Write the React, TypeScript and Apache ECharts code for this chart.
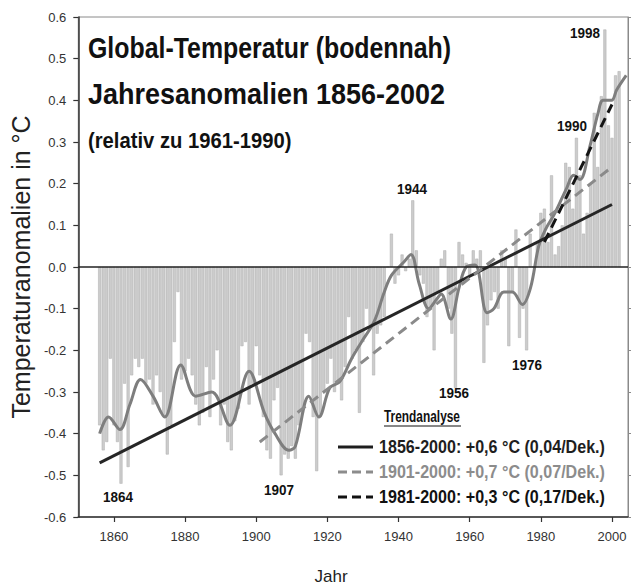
import React, { useEffect, useRef } from 'react';
import * as echarts from 'echarts';

const FONT = '"Liberation Sans", Arial, Helvetica, sans-serif';

const firstYear = 1856;
const anom1850s = [-0.38, -0.44, -0.42, -0.22];
const anom1860s = [-0.38, -0.42, -0.52, -0.28, -0.48, -0.26, -0.22, -0.24, -0.22, -0.28];
const anom1870s = [-0.27, -0.33, -0.26, -0.30, -0.36, -0.45, -0.38, -0.18, -0.06, -0.27];
const anom1880s = [-0.25, -0.22, -0.26, -0.33, -0.38, -0.35, -0.24, -0.36, -0.27, -0.20];
const anom1890s = [-0.38, -0.33, -0.42, -0.44, -0.37, -0.34, -0.19, -0.18, -0.33, -0.28];
const anom1900s = [-0.19, -0.26, -0.36, -0.44, -0.46, -0.32, -0.29, -0.50, -0.45, -0.46];
const anom1910s = [-0.43, -0.46, -0.38, -0.35, -0.16, -0.18, -0.36, -0.49, -0.36, -0.30];
const anom1920s = [-0.28, -0.22, -0.30, -0.28, -0.32, -0.24, -0.12, -0.22, -0.20, -0.35];
const anom1930s = [-0.18, -0.10, -0.14, -0.26, -0.16, -0.14, -0.12, 0.00, 0.08, -0.04];
const anom1940s = [-0.02, 0.03, -0.01, 0.02, 0.16, 0.04, -0.02, -0.04, -0.12, -0.10];
const anom1950s = [-0.20, -0.06, 0.02, 0.04, -0.10, -0.16, -0.29, 0.06, 0.03, 0.01];
const anom1960s = [-0.02, 0.04, 0.02, 0.04, -0.23, -0.14, -0.08, -0.06, -0.10, 0.04];
const anom1970s = [0.02, -0.19, -0.06, 0.09, -0.17, -0.10, -0.20, 0.08, 0.00, 0.06];
const anom1980s = [0.13, 0.14, 0.06, 0.22, 0.03, 0.05, 0.10, 0.25, 0.24, 0.14];
const anom1990s = [0.31, 0.22, 0.08, 0.13, 0.20, 0.37, 0.24, 0.41, 0.57, 0.34];
const anom2000s = [0.31, 0.46, 0.47];

const anomalies = [
  ...anom1850s, ...anom1860s, ...anom1870s, ...anom1880s, ...anom1890s,
  ...anom1900s, ...anom1910s, ...anom1920s, ...anom1930s, ...anom1940s,
  ...anom1950s, ...anom1960s, ...anom1970s, ...anom1980s, ...anom1990s, ...anom2000s,
];
const years = anomalies.map((_, i) => firstYear + i);

// smoothed curve
const smoothYears = [
  1856, 1858.5, 1861.7, 1864.5, 1867.5, 1871, 1874.3, 1878.8, 1883, 1887.5,
  1892.6, 1898, 1902.3, 1905.3, 1909.2, 1911, 1914.8, 1917.6, 1920.7, 1923.5,
  1926.8, 1929.6, 1933.2, 1936, 1938, 1941.3, 1943.5, 1945.8, 1948.5, 1950.5,
  1952, 1954.7, 1957, 1959, 1961.5, 1964.9, 1966.8, 1969.6, 1972, 1974.8,
  1977.1, 1979.4, 1981.3, 1984, 1987.3, 1989.2, 1991, 1993.8, 1996.1, 1997.5,
  1999.9, 2001.3, 2004,
];
const smoothValues = [
  -0.40, -0.36, -0.39, -0.33, -0.27, -0.31, -0.36, -0.235, -0.31, -0.30,
  -0.38, -0.25, -0.35, -0.40, -0.44, -0.43, -0.31, -0.36, -0.29, -0.275,
  -0.22, -0.18, -0.13, -0.06, -0.02, 0.01, 0.03, -0.04, -0.10, -0.08,
  -0.065, -0.125, -0.05, 0.0, 0.005, -0.11, -0.10, -0.06, -0.06, -0.09,
  -0.05, 0.05, 0.09, 0.13, 0.19, 0.22, 0.21, 0.29, 0.37, 0.40,
  0.40, 0.425, 0.46,
];

// trend lines
const trend1Years = [1856, 2000];
const trend1Values = [-0.47, 0.15];
const trend2Years = [1901, 2000];
const trend2Values = [-0.42, 0.24];
const trend3Years = [1981, 2000];
const trend3Values = [0.06, 0.39];

const xTickYears = [1860, 1880, 1900, 1920, 1940, 1960, 1980, 2000];

const titleLines = ['Global-Temperatur (bodennah)', 'Jahresanomalien 1856-2002'];
const subtitle = '(relativ zu 1961-1990)';
const yearNotes = [
  { text: '1998', x: 585, y: 33 },
  { text: '1990', x: 572, y: 126 },
  { text: '1944', x: 412, y: 189 },
  { text: '1864', x: 118, y: 497 },
  { text: '1907', x: 279, y: 490 },
  { text: '1956', x: 454, y: 393 },
  { text: '1976', x: 527, y: 365 },
];
const legendTitle = 'Trendanalyse';
const legendRows = [
  { text: '1856-2000: +0,6 °C (0,04/Dek.)', color: '#1e1e1e', dash: null as null | number[], y: 447 },
  { text: '1901-2000: +0,7 °C (0,07/Dek.)', color: '#8c8c8c', dash: [9, 5], y: 472 },
  { text: '1981-2000: +0,3 °C (0,17/Dek.)', color: '#111111', dash: [9, 5], y: 497 },
];

const pairs = (xs: number[], ys: number[]) => xs.map((x, i) => [x, ys[i]]);

export default function App() {
  const ref = useRef<HTMLDivElement>(null);
  useEffect(() => {
    const chart = echarts.init(ref.current!, null, { renderer: 'svg' });
    const graphics: any[] = [];
    const titleScale = [0.83, 0.9];
    titleLines.forEach((t, i) => {
      graphics.push({
        type: 'text', x: 88, y: 48 + i * 45, z: 10, scaleX: titleScale[i],
        style: { text: t, font: `bold 30px ${FONT}`, fill: '#111', verticalAlign: 'middle' },
      });
    });
    graphics.push({
      type: 'text', x: 88, y: 140, z: 10, scaleX: 0.92,
      style: { text: subtitle, font: `bold 22px ${FONT}`, fill: '#111', verticalAlign: 'middle' },
    });
    yearNotes.forEach((n) => {
      graphics.push({
        type: 'text', x: n.x, y: n.y, z: 10, scaleX: 0.9,
        style: { text: n.text, font: `bold 15px ${FONT}`, fill: '#111', align: 'center', verticalAlign: 'middle' },
      });
    });
    graphics.push({
      type: 'text', x: 384, y: 416, z: 10, scaleX: 0.7,
      style: { text: legendTitle, font: `bold 17px ${FONT}`, fill: '#111', align: 'left', verticalAlign: 'middle' },
    });
    graphics.push({
      type: 'line', z: 10,
      shape: { x1: 384, y1: 426, x2: 461, y2: 426 },
      style: { stroke: '#111', lineWidth: 1.2 },
    });
    legendRows.forEach((r) => {
      graphics.push({
        type: 'line', z: 10,
        shape: { x1: 338, y1: r.y, x2: 373, y2: r.y },
        style: { stroke: r.color, lineWidth: 3, lineDash: r.dash || undefined },
      });
      graphics.push({
        type: 'text', x: 379, y: r.y, z: 10, scaleX: 0.92,
        style: { text: r.text, font: `bold 17.5px ${FONT}`, fill: r.color, align: 'left', verticalAlign: 'middle' },
      });
    });
    graphics.push({
      type: 'text', x: 331, y: 576, z: 10,
      style: { text: 'Jahr', font: `17px ${FONT}`, fill: '#222', align: 'center', verticalAlign: 'middle' },
    });

    chart.setOption({
      animation: false,
      backgroundColor: '#ffffff',
      textStyle: { fontFamily: FONT },
      grid: { left: 75, top: 17, right: 4, bottom: 71, show: true, borderColor: '#8a8a8a', borderWidth: 1 },
      xAxis: {
        type: 'value', min: 1850, max: 2004.5,
        axisLine: { show: true, onZero: false, lineStyle: { color: '#333', width: 1.5 } },
        axisTick: { show: true, length: 5, customValues: xTickYears, lineStyle: { color: '#333', width: 1.2 } },
        axisLabel: {
          customValues: xTickYears, color: '#333', fontSize: 13, margin: 13, fontFamily: FONT,
          formatter: (v: number) => String(Math.round(v)),
        },
        splitLine: { show: false },
      },
      yAxis: [
        {
          type: 'value', min: -0.6, max: 0.6, interval: 0.1,
          axisLine: { show: true, onZero: false, lineStyle: { color: '#333', width: 1.5 } },
          axisTick: { show: true, length: 5, lineStyle: { color: '#333', width: 1.2 } },
          axisLabel: {
            color: '#333', fontSize: 13, margin: 12, fontFamily: FONT, hideOverlap: false,
            formatter: (v: number) => (Math.abs(v) < 1e-9 ? 0 : v).toFixed(1),
          },
          splitLine: { show: false },
          name: 'Temperaturanomalien in °C', nameLocation: 'middle', nameGap: 41, nameRotate: 90,
          nameTextStyle: { fontSize: 25, color: '#222', fontFamily: FONT },
        },
        {
          type: 'value', min: -0.6, max: 0.6, interval: 0.1, position: 'right',
          axisLine: { show: true, onZero: false, lineStyle: { color: '#8a8a8a', width: 1 } },
          axisTick: { show: true, length: 3, lineStyle: { color: '#8a8a8a' } },
          axisLabel: { show: false },
          splitLine: { show: false },
        },
      ],
      series: [
        {
          type: 'bar', name: 'Jahresanomalie',
          data: pairs(years, anomalies),
          barWidth: 3,
          itemStyle: { color: '#cccccc', borderColor: '#adadad', borderWidth: 0.5 },
          z: 1,
          markLine: {
            silent: true, symbol: 'none', label: { show: false },
            lineStyle: { color: '#222', width: 1.5, type: 'solid' },
            data: [{ yAxis: 0 }],
          },
        },
        {
          type: 'line', name: 'geglättet', data: pairs(smoothYears, smoothValues),
          smooth: 0.35, showSymbol: false, symbol: 'none',
          lineStyle: { color: '#7e7e7e', width: 3 }, z: 3,
        },
        {
          type: 'line', name: 'Trend 1856-2000', data: pairs(trend1Years, trend1Values),
          showSymbol: false, symbol: 'none',
          lineStyle: { color: '#262626', width: 3 }, z: 4,
        },
        {
          type: 'line', name: 'Trend 1901-2000', data: pairs(trend2Years, trend2Values),
          showSymbol: false, symbol: 'none',
          lineStyle: { color: '#8a8a8a', width: 3, type: [10, 6] }, z: 4,
        },
        {
          type: 'line', name: 'Trend 1981-2000', data: pairs(trend3Years, trend3Values),
          showSymbol: false, symbol: 'none',
          lineStyle: { color: '#151515', width: 3, type: [10, 6] }, z: 5,
        },
      ],
      graphic: graphics,
    });
    return () => chart.dispose();
  }, []);
  return (
    <div
      ref={ref}
      style={{ position: 'fixed', left: 0, top: 0, width: 632, height: 588, background: '#fff' }}
    />
  );
}
